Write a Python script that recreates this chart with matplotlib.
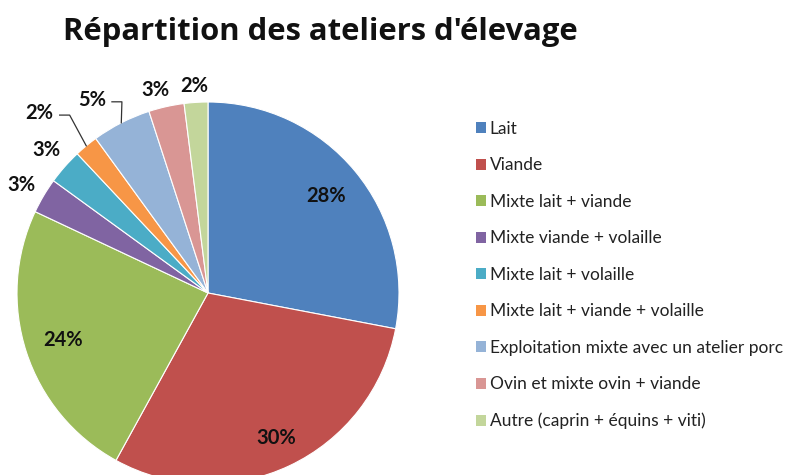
import matplotlib
matplotlib.use('Agg')
import matplotlib.pyplot as plt
from matplotlib.patches import Patch
import numpy as np

# data
categories = ["Lait", "Viande", "Mixte lait + viande", "Mixte viande + volaille",
              "Mixte lait + volaille", "Mixte lait + viande + volaille",
              "Exploitation mixte avec un atelier porc",
              "Ovin et mixte ovin + viande", "Autre (caprin + équins + viti)"]
shares = [28, 30, 24, 3, 3, 2, 5, 3, 2]
colors = ["#4F81BD", "#C0504D", "#9BBB59", "#8064A2", "#4BACC6",
          "#F79646", "#95B3D7", "#D99694", "#C3D69B"]

# label layout (radius factor, angle shift in degrees, leader line or not)
label_r = [0.80, 0.84, 0.80, 1.13, 1.13, 1.29, 1.18, 1.10, 1.085]
label_shift = [0, 0, 0, 0.5, 0, 3.5, 4, 2, 0.3]
leader = [False, False, False, False, False, True, True, False, False]

fig = plt.figure(figsize=(7.86, 4.75), dpi=100)
ax = fig.add_axes([0, 0, 1, 1])

cx, cy, R = 208, 182, 191
wedges, _ = ax.pie(shares, colors=colors, startangle=90, counterclock=False,
                   center=(cx, cy), radius=R,
                   wedgeprops=dict(edgecolor='white', linewidth=0.8))
ax.set_xlim(0, 786)
ax.set_ylim(0, 475)
ax.set_aspect('equal')
ax.axis('off')

for w, v, f, sh, ld in zip(wedges, shares, label_r, label_shift, leader):
    mid = np.deg2rad((w.theta1 + w.theta2) / 2)
    a = mid + np.deg2rad(sh)
    tx, ty = cx + f * R * np.cos(a), cy + f * R * np.sin(a)
    ax.text(tx, ty, f"{v}%", ha='center', va='center', fontsize=14.5,
            fontweight='bold', family='Lato', color='#111111')
    if ld:
        ex, ey = cx + R * np.cos(mid), cy + R * np.sin(mid)
        sx = tx + 20
        ax.plot([sx, sx + 10, ex], [ty - 2, ty - 2, ey], color='#333333', lw=0.9)

fig.text(0.408, 0.932, "Répartition des ateliers d'élevage", ha='center', va='center',
         fontsize=22.3, fontweight='bold', family='Open Sans', color='#111111')

handles = [Patch(facecolor=c, edgecolor='none') for c in colors]
leg = ax.legend(handles, categories, loc='upper left', bbox_to_anchor=(476 / 786, 1 - 121 / 475),
                bbox_transform=fig.transFigure, frameon=False, handlelength=0.58, handleheight=0.58,
                handletextpad=0.2, labelspacing=1.18, borderpad=0, borderaxespad=0,
                prop=dict(family='Lato', size=12.5))
for t in leg.get_texts():
    t.set_color('#222222')

plt.savefig("out.png", dpi=100)
plt.close()
